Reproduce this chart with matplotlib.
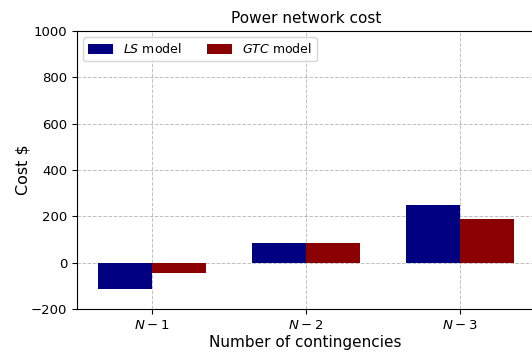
import numpy as np
import matplotlib.pyplot as plt

contingencies = ['$N-1$', '$N-2$', '$N-3$']
ls_cost = [-114, 85, 249]
gtc_cost = [-43, 85, 190]

width = 0.35
x = np.arange(len(contingencies))

fig = plt.figure(figsize=(5.32, 3.52), dpi=100)
ax = fig.add_axes([0.1447, 0.122, 0.86, 0.79])

ax.bar(x - width / 2, ls_cost, width, color='navy', label='$LS$ model')
ax.bar(x + width / 2, gtc_cost, width, color='darkred', label='$GTC$ model')

ax.set_xticks(x)
ax.set_xticklabels(contingencies)
ax.tick_params(labelsize=9.5)
ax.set_ylim(-200, 1000)
ax.set_xlim(-0.485, 2.485)
ax.set_title('Power network cost', fontsize=11)
ax.set_xlabel('Number of contingencies', fontsize=11, labelpad=2)
ax.set_ylabel('Cost $', fontsize=11.5, labelpad=0)
ax.grid(True, linestyle='--', color='gray', alpha=0.5, linewidth=0.7)
ax.set_axisbelow(True)
ax.legend(loc='upper left', ncol=2, fontsize=9, handleheight=0.9)

fig.savefig('out.png', dpi=100)
